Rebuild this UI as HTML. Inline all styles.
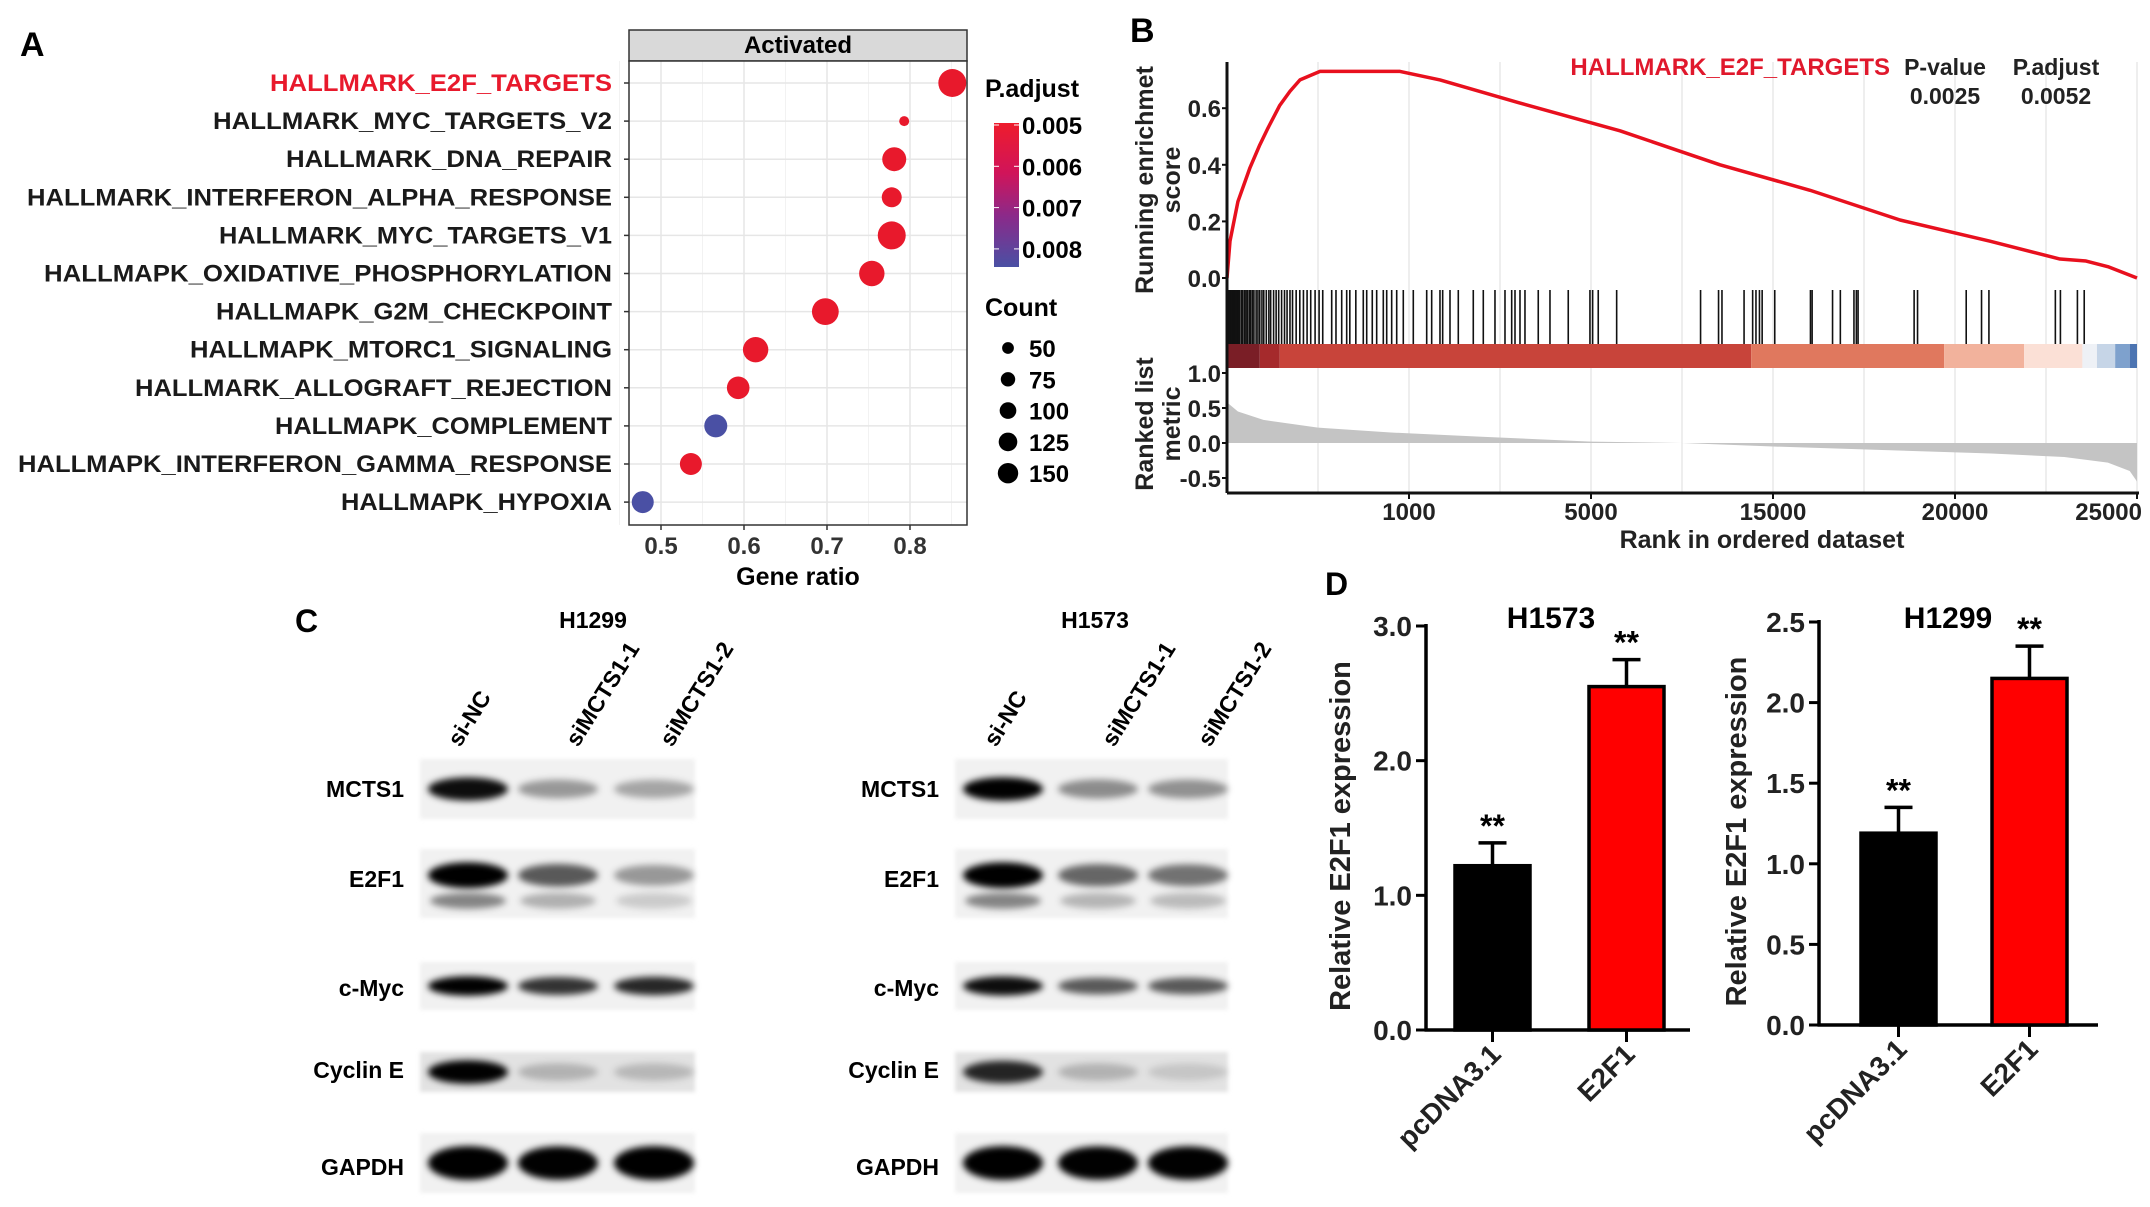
<!DOCTYPE html>
<html><head><meta charset="utf-8">
<style>
html,body{margin:0;padding:0;background:#fff;}
svg{display:block;}
text{font-family:"Liberation Sans",sans-serif;}
.n{font-family:"Liberation Sans Narrow","Liberation Sans",sans-serif;font-weight:bold;}
.b{font-weight:bold;}
</style></head>
<body>
<svg id="fig" width="2150" height="1207" viewBox="0 0 2150 1207" xmlns="http://www.w3.org/2000/svg">
<defs>
<linearGradient id="pgrad" x1="0" y1="0" x2="0" y2="1">
<stop offset="0" stop-color="#ee1c2c"/><stop offset="0.35" stop-color="#d0145a"/><stop offset="0.65" stop-color="#8a2a8a"/><stop offset="1" stop-color="#4a50a4"/>
</linearGradient>
<filter id="blur" x="-30%" y="-80%" width="160%" height="260%"><feGaussianBlur stdDeviation="3.5"/></filter>
<filter id="blur2" x="-10%" y="-10%" width="120%" height="120%"><feGaussianBlur stdDeviation="2"/></filter>
</defs>
<g id="panelA"></g>
<g id="panelB"></g>
<g id="panelC"></g>
<g id="panelD"></g>
</svg>
<script>
const NS="http://www.w3.org/2000/svg";
function mk(parent,tag,attrs,txt){const e=document.createElementNS(NS,tag);for(const k in attrs)e.setAttribute(k,attrs[k]);if(txt!==undefined)e.textContent=txt;parent.appendChild(e);return e;}

/* ---------- Panel A data ---------- */
const aTerms=["HALLMARK_E2F_TARGETS","HALLMARK_MYC_TARGETS_V2","HALLMARK_DNA_REPAIR","HALLMARK_INTERFERON_ALPHA_RESPONSE","HALLMARK_MYC_TARGETS_V1","HALLMAPK_OXIDATIVE_PHOSPHORYLATION","HALLMAPK_G2M_CHECKPOINT","HALLMAPK_MTORC1_SIGNALING","HALLMARK_ALLOGRAFT_REJECTION","HALLMAPK_COMPLEMENT","HALLMAPK_INTERFERON_GAMMA_RESPONSE","HALLMAPK_HYPOXIA"];
const aRatio=[0.851,0.793,0.781,0.778,0.778,0.754,0.698,0.614,0.593,0.566,0.536,0.478];
const aCount=[204,26,150,104,204,168,187,168,133,138,126,126];
const aPadj=[0.0050,0.0050,0.0050,0.0050,0.0050,0.0050,0.0050,0.0050,0.0050,0.0082,0.0050,0.0082];
const aXTicks=[0.5,0.6,0.7,0.8];
const aPTicks=[0.005,0.006,0.007,0.008];
const aCountTicks=[50,75,100,125,150];
const aLabelLeft=[270,213,286,27,219,44,216,190,135,275,18,341];

/* ---------- Panel B data ---------- */
const esRank=[0,82,300,632,900,1126,1450,1731,2005,2555,3500,4753,5852,8000,10797,13544,16016,18489,20962,22885,23600,24200,25000];
const esVal=[0,0.13,0.27,0.39,0.47,0.53,0.61,0.66,0.70,0.73,0.73,0.73,0.70,0.62,0.52,0.40,0.31,0.205,0.13,0.067,0.06,0.04,0];
const hitRanks=[20,60,95,130,160,200,240,270,310,350,400,430,480,520,560,610,650,700,740,800,850,900,960,1010,1080,1150,1200,1280,1350,1420,1500,1580,1650,1730,1800,1900,2000,2100,2200,2300,2420,2530,2630,2876,2994,3151,3288,3374,3539,3744,3838,3991,4112,4294,4387,4524,4662,4843,5118,5486,5623,5851,5925,6126,6354,6766,7041,7362,7637,7821,7912,8049,8186,8551,8873,9375,9971,10045,10199,10705,13010,13504,13598,14205,14441,14532,14628,14702,15048,16029,16075,16636,16850,17224,17290,17337,18877,18971,20308,20729,20932,22757,22896,23363,23550];
const bandStart=[0,900,1450,14400,19700,21900,23500,23900,24400,24800];
const bandColor=["#7a1e26","#a52a2c","#c8443a","#e0785e","#f2b29c","#fbe0d6","#eef1f6","#c6d5e7","#7ea1cd","#4c74b1"];
const metricRank=[0,300,1000,2500,4500,7000,10000,12500,15000,18000,21000,23000,24200,24800,25000];
const metricVal=[0.58,0.45,0.33,0.22,0.15,0.09,0.02,0,-0.05,-0.10,-0.15,-0.20,-0.28,-0.40,-0.55];
const bXTickVals=[5000,10000,15000,20000,25000];
const bXTickLabels=["1000","5000","15000","20000","25000"];
const bGridVals=[2500,5000,7500,10000,12500,15000,17500,20000,22500,25000];
const bEsTicks=[0,0.2,0.4,0.6];
const bMetricTicks=[1.0,0.5,0.0,-0.5];

/* ---------- Panel D data ---------- */
const dCats=["pcDNA3.1","E2F1"];
const dH1573Vals=[1.22,2.55];
const dH1573Err=[0.17,0.20];
const dH1299Vals=[1.19,2.15];
const dH1299Err=[0.16,0.20];
const dH1573Ticks=[0,1,2,3];
const dH1299Ticks=[0,0.5,1,1.5,2,2.5];

/* ---------- Panel C data ---------- */
const cProteins=["MCTS1","E2F1","c-Myc","Cyclin E","GAPDH"];
const cLanes=["si-NC","siMCTS1-1","siMCTS1-2"];
const cH1299Intensity=[[0.9,0.35,0.3],[1.0,0.6,0.35],[0.95,0.75,0.8],[0.95,0.2,0.18],[1.0,0.95,1.0]];
const cH1573Intensity=[[0.95,0.4,0.38],[1.0,0.55,0.5],[0.9,0.6,0.6],[0.8,0.2,0.12],[1.0,0.95,0.95]];

/* ================= Panel A ================= */
(function(){
const g=document.getElementById('panelA');
const L=629,R=967,T=61,B=525;
const x=v=>661+(v-0.5)*830;
const y=i=>83+i*38.1;
const r=c=>0.98*Math.sqrt(c);
const pcol=p=>{const t=Math.min(1,Math.max(0,(p-0.005)/0.0033));return t<0.5?"#e8192c":"#4a50a4";};
let e=mk(g,'text',{x:20,y:56,'font-size':34,'class':'b'},'A');

e=mk(g,'rect',{x:L,y:30,width:R-L,height:31,fill:'#d9d9d9',stroke:'#333','stroke-width':1.5});

e=mk(g,'text',{x:(L+R)/2,y:53,'font-size':24,'text-anchor':'middle','class':'n'},'Activated');

mk(g,'rect',{x:L,y:T,width:R-L,height:B-T,fill:'#fff'});
[0.45,0.55,0.65,0.75,0.85].forEach(v=>{const l=mk(g,'line',{x1:x(v),x2:x(v),y1:T,y2:B,stroke:'#f2f2f2','stroke-width':1});});
aXTicks.forEach(v=>{const l=mk(g,'line',{x1:x(v),x2:x(v),y1:T,y2:B,stroke:'#e6e6e6','stroke-width':1.5});});
aTerms.forEach((t,i)=>{
 const l=mk(g,'line',{x1:L,x2:R,y1:y(i),y2:y(i),stroke:'#e6e6e6','stroke-width':1.5});
 
 const tk=mk(g,'line',{x1:L-5,x2:L,y1:y(i),y2:y(i),stroke:'#333','stroke-width':1.5});
 
 const tx=mk(g,'text',{x:612,y:y(i)+8,'font-size':24,'text-anchor':'end','class':'n',fill:i===0?'#e8192c':'#1a1a1a',textLength:612-aLabelLeft[i],lengthAdjust:'spacingAndGlyphs'},t);
 
});
aTerms.forEach((t,i)=>{
 const c=mk(g,'circle',{cx:x(aRatio[i]),cy:y(i),r:r(aCount[i]),fill:pcol(aPadj[i])});
 
});
e=mk(g,'rect',{x:L,y:T,width:R-L,height:B-T,fill:'none',stroke:'#333','stroke-width':1.5});

aXTicks.forEach(v=>{
 const tk=mk(g,'line',{x1:x(v),x2:x(v),y1:B,y2:B+5,stroke:'#333','stroke-width':1.5});
 
 const t=mk(g,'text',{x:x(v),y:554,'font-size':24,'text-anchor':'middle','class':'n',fill:'#333'},v.toFixed(1));
 
});
e=mk(g,'text',{x:(L+R)/2,y:585,'font-size':25,'text-anchor':'middle','class':'n'},'Gene ratio');

e=mk(g,'text',{x:985,y:97,'font-size':25,'class':'n'},'P.adjust');

e=mk(g,'rect',{x:994,y:123,width:25,height:144,fill:'url(#pgrad)'});

const py=p=>125+(p-0.005)/0.001*41.3;
aPTicks.forEach(p=>{
 mk(g,'line',{x1:994,x2:999,y1:py(p),y2:py(p),stroke:'#fff','stroke-width':1});
 mk(g,'line',{x1:1014,x2:1019,y1:py(p),y2:py(p),stroke:'#fff','stroke-width':1});
 const t=mk(g,'text',{x:1022,y:py(p)+9,'font-size':24,'class':'n'},p.toFixed(3));
 
});
e=mk(g,'text',{x:985,y:316,'font-size':25,'class':'n'},'Count');

aCountTicks.forEach((c,i)=>{
 const cy=348+i*31.3;
 const d=mk(g,'circle',{cx:1008,cy:cy,r:r(c)*0.85,fill:'#000'});
 
 const t=mk(g,'text',{x:1029,y:cy+9,'font-size':24,'class':'n'},String(c));
 
});
})();

/* ================= Panel B ================= */
(function(){
const g=document.getElementById('panelB');
const L=1227,R=2137;
const x=rk=>L+rk/25000*(R-L);
const yES=v=>278-v*283;
const yM=v=>443-v*70;
let e=mk(g,'text',{x:1130,y:42,'font-size':34,'class':'b'},'B');

bGridVals.forEach(v=>{
 const l=mk(g,'line',{x1:x(v),x2:x(v),y1:62,y2:493,stroke:'#e8e8e8','stroke-width':1.5});
 
});
let d='M'+x(metricRank[0])+','+yM(0);
metricRank.forEach((rk,i)=>{d+=' L'+x(rk)+','+yM(metricVal[i]);});
d+=' L'+x(25000)+','+yM(0)+' Z';
e=mk(g,'path',{d:d,fill:'#c4c4c4'});

bandStart.forEach((s,i)=>{
 const en=i<bandStart.length-1?bandStart[i+1]:25000;
 const rc=mk(g,'rect',{x:x(s),y:344,width:x(en)-x(s),height:24,fill:bandColor[i]});
 
});
hitRanks.forEach(h=>{
 const l=mk(g,'line',{x1:x(h),x2:x(h),y1:290,y2:344,stroke:'#111','stroke-width':1.6});
 
});
let p='';
esRank.forEach((rk,i)=>{p+=(i?' L':'M')+x(rk)+','+yES(esVal[i]);});
e=mk(g,'path',{d:p,fill:'none',stroke:'#e8101e','stroke-width':3.5,'stroke-linejoin':'round'});

e=mk(g,'line',{x1:L,x2:L,y1:62,y2:493,stroke:'#111','stroke-width':3});

e=mk(g,'line',{x1:L,x2:R+2,y1:493,y2:493,stroke:'#111','stroke-width':3});

bEsTicks.forEach(v=>{
 mk(g,'line',{x1:L-5,x2:L,y1:yES(v),y2:yES(v),stroke:'#111','stroke-width':2});
 const t=mk(g,'text',{x:L-6,y:yES(v)+9,'font-size':24,'text-anchor':'end','class':'b',fill:'#222'},v.toFixed(1));
 
});
bMetricTicks.forEach(v=>{
 mk(g,'line',{x1:L-5,x2:L,y1:yM(v),y2:yM(v),stroke:'#111','stroke-width':2});
 const t=mk(g,'text',{x:L-6,y:yM(v)+9,'font-size':24,'text-anchor':'end','class':'b',fill:'#222'},v.toFixed(1));
 
});
bXTickVals.forEach((v,i)=>{
 mk(g,'line',{x1:x(v),x2:x(v),y1:493,y2:499,stroke:'#111','stroke-width':2});
 const last=i===bXTickVals.length-1;
 const t=mk(g,'text',{x:last?x(v)+5:x(v),y:520,'font-size':24,'text-anchor':last?'end':'middle','class':'b',fill:'#222'},bXTickLabels[i]);
 
});
e=mk(g,'text',{x:1762,y:548,'font-size':25,'text-anchor':'middle','class':'b',fill:'#222'},'Rank in ordered dataset');

e=mk(g,'text',{x:0,y:0,'font-size':25,'text-anchor':'middle','class':'b',fill:'#222',transform:'translate(1153,180) rotate(-90)'},'Running enrichmet');

e=mk(g,'text',{x:0,y:0,'font-size':25,'text-anchor':'middle','class':'b',fill:'#222',transform:'translate(1180,180) rotate(-90)'},'score');

e=mk(g,'text',{x:0,y:0,'font-size':25,'text-anchor':'middle','class':'b',fill:'#222',transform:'translate(1153,424) rotate(-90)'},'Ranked list');

e=mk(g,'text',{x:0,y:0,'font-size':25,'text-anchor':'middle','class':'b',fill:'#222',transform:'translate(1180,424) rotate(-90)'},'metric');

e=mk(g,'text',{x:1890,y:75,'font-size':24,'text-anchor':'end','class':'b',fill:'#e0182c'},'HALLMARK_E2F_TARGETS');

e=mk(g,'text',{x:1945,y:75,'font-size':23,'text-anchor':'middle','class':'b',fill:'#222'},'P-value');

e=mk(g,'text',{x:2056,y:75,'font-size':23,'text-anchor':'middle','class':'b',fill:'#222'},'P.adjust');

e=mk(g,'text',{x:1945,y:104,'font-size':23,'text-anchor':'middle','class':'b',fill:'#222'},'0.0025');

e=mk(g,'text',{x:2056,y:104,'font-size':23,'text-anchor':'middle','class':'b',fill:'#222'},'0.0052');

})();

/* ================= Panel C ================= */
(function(){
const g=document.getElementById('panelC');
let e=mk(g,'text',{x:295,y:632,'font-size':32,'class':'b'},'C');

const rows=[[759,819],[849,918],[962,1010],[1052,1092],[1133,1193]];
const labelY=[797,887,996,1078,1175];
const blots=[{name:'H1299',tx:593,x0:420,x1:695,lab:404,lanes:[468,558,654],I:cH1299Intensity,lx:[478,596,690]},
             {name:'H1573',tx:1095,x0:955,x1:1228,lab:939,lanes:[1003,1098,1188],I:cH1573Intensity,lx:[1014,1132,1228]}];
blots.forEach(bl=>{
 let t=mk(g,'text',{x:bl.tx,y:628,'font-size':23,'text-anchor':'middle','class':'n'},bl.name);
 
 cLanes.forEach((ln,j)=>{
  const tt=mk(g,'text',{x:0,y:0,'font-size':23,'class':'n',transform:'translate('+(bl.lx[j]-18)+',748) rotate(-58)'},ln);
  
 });
 cProteins.forEach((p,i)=>{
  const [y0,y1]=rows[i];
  const bg=mk(g,'rect',{x:bl.x0,y:y0,width:bl.x1-bl.x0,height:y1-y0,fill:(i===3?'#e2e2e2':'#f1f1f1'),filter:'url(#blur2)'});
  
  const cy=(i===1)?y0+(y1-y0)*0.38:(y0+y1)/2;
  cLanes.forEach((ln,j)=>{
   const v=bl.I[i][j];
   const bh=(i===4?26:(i===2?12:(i===1?18:16)));
   const b=mk(g,'ellipse',{cx:bl.lanes[j],cy:cy,rx:40,ry:bh/2+v*4,fill:'#000','fill-opacity':Math.min(1,v*1.05),filter:'url(#blur)'});
   
   if(i===1){const b2=mk(g,'ellipse',{cx:bl.lanes[j],cy:y0+(y1-y0)*0.75,rx:38,ry:8,fill:'#000','fill-opacity':v*0.45,filter:'url(#blur)'});
    }
  });
  const lt=mk(g,'text',{x:bl.lab,y:labelY[i],'font-size':23,'text-anchor':'end','class':'n'},p);
  
 });
});
})();

/* ================= Panel D ================= */
(function(){
const g=document.getElementById('panelD');
let e=mk(g,'text',{x:1325,y:595,'font-size':32,'class':'b'},'D');

function chart(cfg){
 const y=v=>cfg.y0-v/cfg.max*(cfg.y0-cfg.yTop);
 const t=mk(g,'text',{x:cfg.titleX,y:628,'font-size':30,'text-anchor':'middle','class':'b'},cfg.title);
 
 const ax=mk(g,'line',{x1:cfg.ax,x2:cfg.ax,y1:y(cfg.max)-2,y2:cfg.y0+1.5,stroke:'#000','stroke-width':3.5});
 
 const xa=mk(g,'line',{x1:cfg.ax-1.5,x2:cfg.axR,y1:cfg.y0,y2:cfg.y0,stroke:'#000','stroke-width':3.5});
 
 cfg.ticks.forEach(v=>{
  mk(g,'line',{x1:cfg.ax-10,x2:cfg.ax,y1:y(v),y2:y(v),stroke:'#000','stroke-width':3});
  const tl=mk(g,'text',{x:cfg.ax-14,y:y(v)+10,'font-size':28,'text-anchor':'end','class':'b',fill:'#222'},v.toFixed(1));
  
 });
 const yt=mk(g,'text',{x:0,y:0,'font-size':29,'text-anchor':'middle','class':'b',fill:'#222',transform:'translate('+cfg.titleYX+','+((cfg.y0+y(cfg.max))/2+8)+') rotate(-90)'},'Relative E2F1 expression');
 
 dCats.forEach((c,i)=>{
  const x0=cfg.bx[i],w=cfg.bw,cx=x0+w/2;
  const v=cfg.vals[i],er=cfg.err[i];
  const el=mk(g,'line',{x1:cx,x2:cx,y1:y(v),y2:y(v+er),stroke:'#000','stroke-width':3.5});
  
  const ec=mk(g,'line',{x1:cx-14,x2:cx+14,y1:y(v+er),y2:y(v+er),stroke:'#000','stroke-width':3.5});
  
  const b=mk(g,'rect',{x:x0,y:y(v),width:w,height:cfg.y0-y(v),fill:i?'#ff0000':'#000',stroke:'#000','stroke-width':3.5});
  
  const s=mk(g,'text',{x:cx,y:y(v+er)-6,'font-size':32,'text-anchor':'middle','class':'b'},'**');
  
  mk(g,'line',{x1:cx,x2:cx,y1:cfg.y0,y2:cfg.y0+12,stroke:'#000','stroke-width':3});
  const cl=mk(g,'text',{x:0,y:0,'font-size':28,'text-anchor':'end','class':'b',fill:'#222',transform:'translate('+(cx+10)+','+(cfg.y0+26)+') rotate(-45)'},c);
  
 });
}
chart({title:'H1573',titleX:1551,ax:1426,axR:1690,y0:1030,yTop:626,max:3,ticks:dH1573Ticks,vals:dH1573Vals,err:dH1573Err,bx:[1455,1589],bw:75,titleYX:1350});
chart({title:'H1299',titleX:1948,ax:1819,axR:2098,y0:1025,yTop:622,max:2.5,ticks:dH1299Ticks,vals:dH1299Vals,err:dH1299Err,bx:[1861,1992],bw:75,titleYX:1746});
})();
</script>
</body></html>
